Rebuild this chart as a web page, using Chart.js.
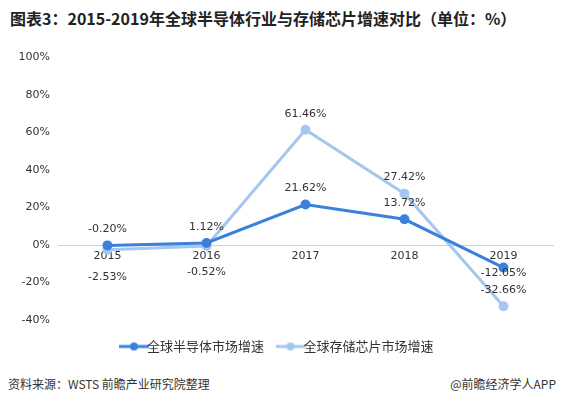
<!DOCTYPE html>
<html>
<head>
<meta charset="utf-8">
<script src="https://cdn.jsdelivr.net/npm/chart.js@4"></script>
<style>
    html, body { margin: 0; padding: 0; background: #fff; }
    .wrap { position: relative; width: 562px; height: 407px; font-family: "Microsoft YaHei", "Noto Sans CJK SC", sans-serif; }
    .title { position: absolute; left: 10px; top: 6px; font-size: 16px; font-weight: bold; color: #222; white-space: nowrap; }
    .source { position: absolute; left: 8px; top: 375px; font-size: 12px; color: #333; }
    .brand { position: absolute; right: 6px; top: 375px; font-size: 12px; color: #333; }
    #chart { position: absolute; left: 0; top: 43px; }
</style>
</head>
<body>
<div class="wrap">
    <div class="title">图表3：2015-2019年全球半导体行业与存储芯片增速对比（单位：%）</div>
    <canvas id="chart" width="562" height="320"></canvas>
    <div class="source">资料来源：WSTS 前瞻产业研究院整理</div>
    <div class="brand">@前瞻经济学人APP</div>
</div>
<script>
let years = ['2015', '2016', '2017', '2018', '2019']
let semiGrowth = [-0.20, 1.12, 21.62, 13.72, -12.05]
let memoryGrowth = [-2.53, -0.52, 61.46, 27.42, -32.66]
let seriesNames = ['全球半导体市场增速', '全球存储芯片市场增速']

let darkBlue = '#3b80d9'
let lightBlue = '#a5c7ef'

// legend marker: short line with a dot in the middle
function legendMarker(color) {
    let c = document.createElement('canvas')
    c.width = 30
    c.height = 10
    let ctx = c.getContext('2d')
    ctx.strokeStyle = color
    ctx.lineWidth = 3
    ctx.beginPath()
    ctx.moveTo(0, 5)
    ctx.lineTo(30, 5)
    ctx.stroke()
    ctx.fillStyle = color
    ctx.beginPath()
    ctx.arc(15, 5, 4, 0, Math.PI * 2)
    ctx.fill()
    return c
}

// label offsets per dataset (negative = above the point)
let labelShift = [
    [-16, -16, -16, -16, 6],
    [27, 26, -16, -16, -16]
]

const pointLabels = {
    id: 'pointLabels',
    afterDatasetsDraw(chart) {
        let ctx = chart.ctx
        ctx.save()
        ctx.font = '11px "DejaVu Sans", sans-serif'
        ctx.fillStyle = '#333'
        ctx.textAlign = 'center'
        ctx.textBaseline = 'middle'
        chart.data.datasets.forEach((ds, i) => {
            chart.getDatasetMeta(i).data.forEach((pt, j) => {
                ctx.fillText(ds.data[j].toFixed(2) + '%', pt.x, pt.y + labelShift[i][j])
            })
        })
        ctx.restore()
    }
}

new Chart(document.querySelector('#chart'), {
    type: 'line',
    data: {
        labels: years,
        datasets: [
            {
                label: seriesNames[0],
                data: semiGrowth,
                borderColor: darkBlue,
                backgroundColor: darkBlue,
                borderWidth: 3,
                pointRadius: 3.5,
                pointHoverRadius: 3.5,
                tension: 0
            },
            {
                label: seriesNames[1],
                data: memoryGrowth,
                borderColor: lightBlue,
                backgroundColor: lightBlue,
                borderWidth: 3,
                pointRadius: 3.5,
                pointHoverRadius: 3.5,
                tension: 0
            }
        ]
    },
    options: {
        responsive: false,
        animation: false,
        layout: { padding: { left: 8, right: 9, top: 11, bottom: 0 } },
        scales: {
            x: {
                position: { y: 0 },
                offset: true,
                grid: { display: false, drawTicks: false },
                border: { color: '#d0d0d0', width: 1 },
                ticks: { color: '#333', font: { size: 11, family: '"DejaVu Sans", sans-serif' }, padding: 5 }
            },
            y: {
                min: -40,
                max: 100,
                afterFit: (s) => { s.width = 50 },
                grid: { display: false, drawTicks: false },
                border: { display: false },
                ticks: {
                    stepSize: 20,
                    color: '#333',
                    padding: 8,
                    font: { size: 11, family: '"DejaVu Sans", sans-serif' },
                    callback: (v) => v + '%'
                }
            }
        },
        plugins: {
            legend: {
                position: 'bottom',
                labels: {
                    usePointStyle: true,
                    color: '#333',
                    font: { size: 13, family: '"Noto Sans CJK SC", sans-serif' },
                    padding: 20,
                    generateLabels: (chart) => chart.data.datasets.map((ds, i) => ({
                        text: ds.label,
                        pointStyle: legendMarker(ds.borderColor),
                        datasetIndex: i,
                        strokeStyle: 'transparent',
                        fillStyle: 'transparent',
                        fontColor: '#333'
                    }))
                }
            },
            tooltip: { enabled: false }
        }
    },
    plugins: [pointLabels]
})
</script>
</body>
</html>
